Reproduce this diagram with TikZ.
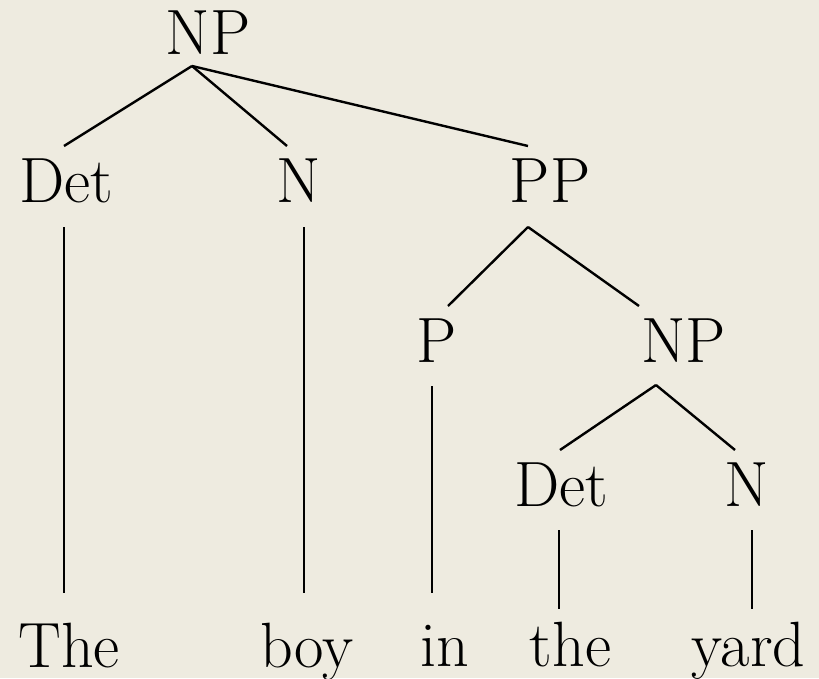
\documentclass[tikz,border=0pt]{standalone}
\usepackage{fontspec}
\definecolor{paper}{RGB}{238,235,224}
\tikzset{lab/.style={anchor=base, inner sep=0pt, font=\fontsize{64}{64}\selectfont}}

\begin{document}
\begin{tikzpicture}[x=1pt,y=-1pt,line width=2.4pt]
\fill[paper] (0,0) rectangle (819,678);
\useasboundingbox (0,0) rectangle (819,678);
% categories
\node (np) at (208,54) [lab]{NP};
\node (det) at (66,202) [lab]{Det};
\node (n) at (298.5,202) [lab]{N};
\node (pp) at (550,202) [lab]{PP};
\node (p) at (437,362) [lab]{P};
\node (np2) at (683.5,362) [lab]{NP};
\node (det2) at (561.5,506) [lab]{Det};
\node (n2) at (746.5,506) [lab]{N};
% words
\node (the1) at (69,667) [lab]{The};
\node (boy) at (307,667) [lab]{boy};
\node (in) at (444.5,666) [lab]{in};
\node (the2) at (570.5,666) [lab]{the};
\node (yard) at (748.5,666) [lab]{yard};
% branches
\draw ([shift={(-16,12)}]np.base) -- ([shift={(-2,-56)}]det.base);
\draw ([shift={(-16,12)}]np.base) -- ([shift={(-11.5,-56)}]n.base);
\draw ([shift={(-16,12)}]np.base) -- ([shift={(-22,-56)}]pp.base);
\draw ([shift={(-22,25)}]pp.base) -- ([shift={(11,-56)}]p.base);
\draw ([shift={(-22,25)}]pp.base) -- ([shift={(-44.5,-56)}]np2.base);
\draw ([shift={(-27.5,23)}]np2.base) -- ([shift={(-1.5,-56)}]det2.base);
\draw ([shift={(-27.5,23)}]np2.base) -- ([shift={(-11.5,-56)}]n2.base);
% lexical lines
\draw ([shift={(-2,25)}]det.base) -- ([shift={(-5,-74)}]the1.base);
\draw ([shift={(5.5,25)}]n.base) -- ([shift={(-3,-74)}]boy.base);
\draw ([shift={(-5,24)}]p.base) -- ([shift={(-12.5,-73)}]in.base);
\draw ([shift={(-2.5,24)}]det2.base) -- ([shift={(-11.5,-57)}]the2.base);
\draw ([shift={(5.5,24)}]n2.base) -- ([shift={(3.5,-57)}]yard.base);
\end{tikzpicture}
\end{document}
